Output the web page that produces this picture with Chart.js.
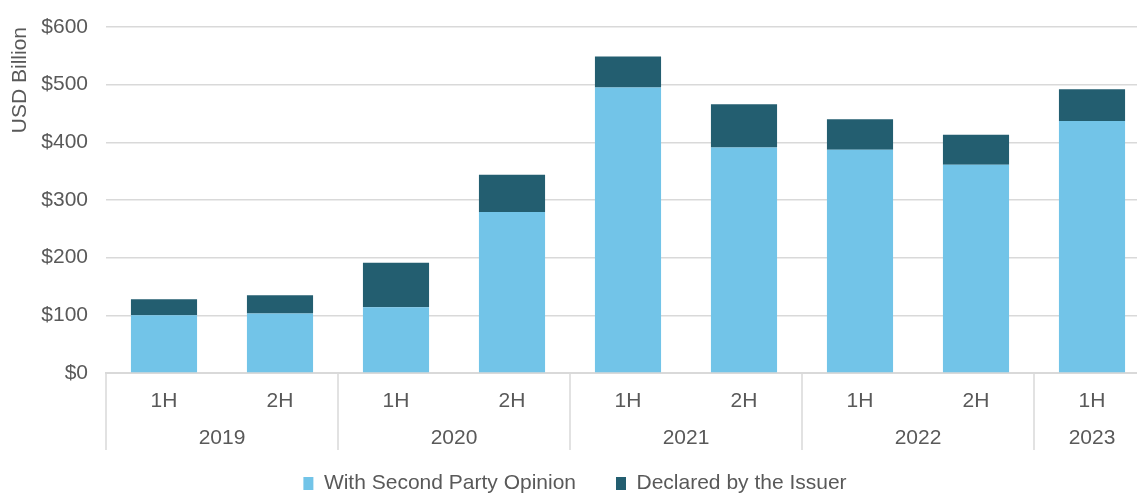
<!DOCTYPE html>
<html>
<head>
<meta charset="utf-8">
<script src="https://cdn.jsdelivr.net/npm/chart.js@4"></script>
<style>
  html, body { margin: 0; padding: 0; background: #fff; overflow: hidden; }
  #wrap { width: 1150px; height: 504px; position: relative; }
</style>
</head>
<body>
<div id="wrap"><canvas id="myChart"></canvas></div>
<script>
  const halves = ['1H', '2H', '1H', '2H', '1H', '2H', '1H', '2H', '1H'];
  const years = ['2019', '2019', '2020', '2020', '2021', '2021', '2022', '2022', '2023'];
  const withSPO = [100, 103, 114, 279, 495, 391, 387, 361, 437];
  const declared = [28, 32, 77, 65, 54, 75, 53, 52, 55];
  const yTicks = [0, 100, 200, 300, 400, 500, 600];

  const gray = '#595959';
  const lineGray = '#d9d9d9';
  const font = { family: "'Liberation Sans', Arial, sans-serif", size: 21 };

  // year row under the 1H/2H labels, with separators between years
  const yearGroups = {
    id: 'yearGroups',
    afterDraw(chart) {
      const x = chart.scales.x;
      const c = chart.ctx;
      const top = chart.chartArea.bottom;
      const half = (x.getPixelForValue(1) - x.getPixelForValue(0)) / 2;
      c.save();
      c.strokeStyle = lineGray;
      c.lineWidth = 1.5;
      c.fillStyle = gray;
      c.font = font.size + 'px ' + font.family;
      c.textAlign = 'center';
      c.textBaseline = 'middle';
      let start = 0;
      for (let i = 1; i <= years.length; i++) {
        if (i === years.length || years[i] !== years[start]) {
          const left = x.getPixelForValue(start) - half;
          const right = x.getPixelForValue(i - 1) + half;
          c.beginPath();
          c.moveTo(left, top);
          c.lineTo(left, top + 77);
          c.stroke();
          c.fillText(years[start], (left + right) / 2, top + 65);
          start = i;
        }
      }
      c.restore();
    }
  };

  new Chart(document.getElementById('myChart'), {
    type: 'bar',
    data: {
      labels: halves,
      datasets: [{
        label: 'With Second Party Opinion',
        data: withSPO,
        backgroundColor: '#72c4e8',
        barPercentage: 0.57,
        categoryPercentage: 1
      }, {
        label: 'Declared by the Issuer',
        data: declared,
        backgroundColor: '#235e70',
        barPercentage: 0.57,
        categoryPercentage: 1
      }]
    },
    options: {
      responsive: true,
      maintainAspectRatio: false,
      animation: false,
      layout: { padding: { top: 27, left: 0, right: 0, bottom: 0 } },
      plugins: {
        tooltip: { enabled: false },
        legend: {
          position: 'bottom',
          labels: {
            color: gray,
            font: font,
            boxWidth: 10,
            boxHeight: 13,
            padding: 40
          }
        }
      },
      scales: {
        x: {
          stacked: true,
          grid: { display: false, drawTicks: false },
          border: { color: lineGray, width: 2 },
          ticks: { color: gray, font: font, padding: 16, maxRotation: 0 },
          afterFit(scale) { scale.height = 60; }
        },
        y: {
          stacked: true,
          min: 0,
          max: 600,
          afterBuildTicks(scale) { scale.ticks = yTicks.map(v => ({ value: v })); },
          grid: { color: lineGray, lineWidth: 1.5, drawTicks: false },
          border: { display: false },
          ticks: {
            color: gray,
            font: font,
            padding: 18,
            callback: v => '$' + v
          },
          title: {
            display: true,
            text: 'USD Billion',
            color: gray,
            font: font,
            align: 'end',
            padding: { top: 8, bottom: 0 }
          },
          afterFit(scale) {
            scale.width = 106;
            scale.paddingTop = 0;
            scale.paddingBottom = 0;
          }
        }
      }
    },
    plugins: [yearGroups]
  });
</script>
</body>
</html>
